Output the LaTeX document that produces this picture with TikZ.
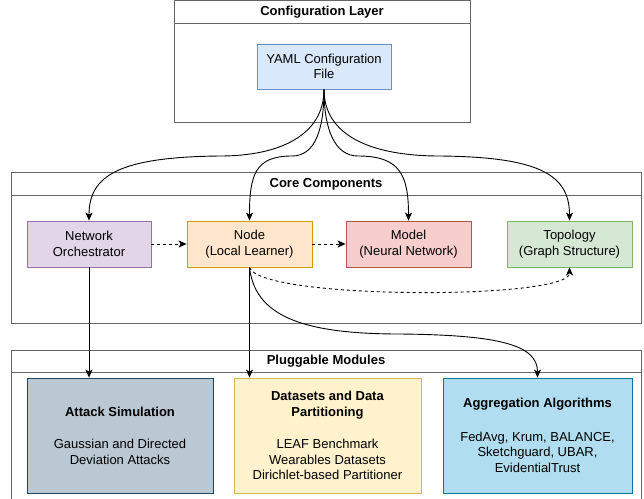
\documentclass[tikz,border=0pt]{standalone}
\usepackage{fontspec}
\setmainfont{Liberation Sans}
\usetikzlibrary{arrows.meta}
\definecolor{orchF}{HTML}{E1D5E7}\definecolor{orchD}{HTML}{9673A6}
\definecolor{nodeF}{HTML}{FFE6CC}\definecolor{nodeD}{HTML}{D79B00}
\definecolor{modF}{HTML}{F8CECC}\definecolor{modD}{HTML}{B85450}
\definecolor{topF}{HTML}{D5E8D4}\definecolor{topD}{HTML}{82B366}
\definecolor{yamF}{HTML}{DAE8FC}\definecolor{yamD}{HTML}{6C8EBF}
\definecolor{attF}{HTML}{BAC8D3}\definecolor{attD}{HTML}{23445D}
\definecolor{datF}{HTML}{FFF2CC}\definecolor{datD}{HTML}{D6B656}
\definecolor{aggF}{HTML}{B1DDF0}\definecolor{aggD}{HTML}{10739E}
\definecolor{laneD}{HTML}{666666}
\begin{document}
\begin{tikzpicture}[x=1pt,y=-1pt,
  txt/.style={font=\fontsize{13}{15.5}\selectfont, align=center, inner sep=0pt},
  ttl/.style={font=\bfseries\fontsize{13}{15.5}\selectfont, inner sep=0pt},
  box/.style={txt, draw, line width=0.8pt, minimum height=46pt, minimum width=125pt},
  bigbox/.style={txt, draw, line width=0.8pt, minimum height=115pt},
  lane/.style={draw=laneD, line width=0.8pt, fill=white},
  arr/.style={line width=0.9pt, -{Stealth[length=8pt,width=7pt,inset=2pt]}},
  darr/.style={arr, dash pattern=on 3pt off 3pt}
]
\useasboundingbox (0,0) rectangle (644,498);
% containers
\draw[lane] (174,0.5) rectangle (470,122);
\draw[laneD, line width=0.8pt] (174,23) -- (470,23);
\draw[lane] (11,172) rectangle (641,323);
\draw[laneD, line width=0.8pt] (11,195) -- (641,195);
\draw[lane] (11,350) rectangle (641,502);
\draw[laneD, line width=0.8pt] (11,372) -- (641,372);
\node[ttl] (tcfg) at (322,12) {Configuration Layer};
\node[ttl] (tcore) at (326,184) {Core Components};
\node[ttl] (tplug) at (326,361) {Pluggable Modules};
% nodes
\node[box, fill=yamF, draw=yamD, minimum width=134pt, minimum height=45pt] (yaml) at (324,66.5) {YAML Configuration\\File};
\node[box, fill=orchF, draw=orchD, minimum width=124pt] (orch) at (89,244) {Network\\Orchestrator};
\node[box, fill=nodeF, draw=nodeD] (lnode) at (249.5,244) {Node\\(Local Learner)};
\node[box, fill=modF, draw=modD] (model) at (408.5,244) {Model\\(Neural Network)};
\node[box, fill=topF, draw=topD] (topo) at (569.5,244) {Topology\\(Graph Structure)};
\node[bigbox, fill=attF, draw=attD, minimum width=186pt] (attack) at (120,435.5)
  {\textbf{Attack Simulation}\\[17pt]Gaussian and Directed\\Deviation Attacks};
\node[bigbox, fill=datF, draw=datD, minimum width=187pt] (data) at (327.5,435.5)
  {\textbf{Datasets and Data}\\\textbf{Partitioning}\\[17pt]LEAF Benchmark\\Wearables Datasets\\Dirichlet-based Partitioner};
\node[bigbox, fill=aggF, draw=aggD, minimum width=189pt] (agg) at (537.5,435.5)
  {\textbf{Aggregation Algorithms}\\[18pt]FedAvg, Krum, BALANCE,\\Sketchguard, UBAR,\\EvidentialTrust};
% waypoints
\coordinate (w1) at (220,156);
\coordinate (w2) at (292,156);
\coordinate (w3) at (358,156);
\coordinate (w4) at (440,156);
\coordinate (w5) at (400,334);
% connectors from YAML
\draw[arr] (yaml.south) .. controls (324,135) and (280,156) .. (w1)
  .. controls (120,157) and (89,175) .. (orch.north);
\draw[arr] (yaml.south) .. controls (324,130) and (315,156) .. (w2)
  .. controls (255,156) and (249.5,175) .. (lnode.north);
\draw[arr] (yaml.south) .. controls (324,130) and (335,156) .. (w3)
  .. controls (400,156) and (408.5,175) .. (model.north);
\draw[arr] (yaml.south) .. controls (324,135) and (370,156) .. (w4)
  .. controls (540,157) and (569.5,175) .. (topo.north);
% dashed
\draw[darr] (orch.east) -- (lnode.west);
\draw[darr] (lnode.east) -- (model.west);
\draw[darr] (lnode.south) .. controls (260,300) and (569.5,300) .. (topo.south);
% to modules
\draw[arr] (orch.south) -- (orch.south |- attack.north);
\draw[arr] (lnode.south) -- (lnode.south |- data.north);
\draw[arr] (lnode.south) .. controls (255,315) and (300,334) .. (w5)
  .. controls (500,335) and (537.5,345) .. (agg.north);
\end{tikzpicture}
\end{document}
